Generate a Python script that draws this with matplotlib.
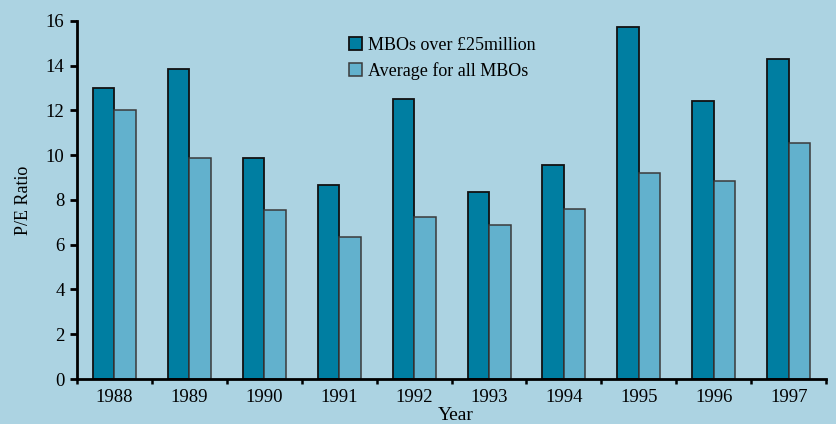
import matplotlib
matplotlib.use("Agg")
import matplotlib.pyplot as plt
import numpy as np

years = ["1988", "1989", "1990", "1991", "1992", "1993", "1994", "1995", "1996", "1997"]
mbo_over_25m = [13.0, 13.85, 9.85, 8.65, 12.5, 8.35, 9.55, 15.7, 12.4, 14.3]
avg_all_mbos = [12.0, 9.87, 7.55, 6.35, 7.22, 6.9, 7.6, 9.2, 8.85, 10.55]
series_names = ["MBOs over £25million", "Average for all MBOs"]

plt.rcParams['font.family'] = ['Liberation Serif', 'DejaVu Serif']

bg = '#acd3e2'
dark = '#007ea1'
light = '#62b1cd'

fig = plt.figure(figsize=(8.37, 4.24), dpi=100, facecolor=bg)
ax = fig.add_axes([0.092, 0.106, 0.895, 0.845], facecolor=bg)

x = np.arange(len(years))
w = 0.287
ax.bar(x - w/2, mbo_over_25m, width=w, color=dark, edgecolor='#111111', linewidth=1.3, label=series_names[0])
ax.bar(x + w/2, avg_all_mbos, width=w, color=light, edgecolor='#3a3a3a', linewidth=1.1, label=series_names[1])

ax.set_xlim(-0.5, len(years) - 0.5)
ax.set_ylim(0, 16)
ax.set_yticks(np.arange(0, 17, 2))
ax.set_xticks(x)
ax.set_xticklabels(years)
ax.set_xticks(np.arange(-0.5, len(years), 1.0), minor=True)
ax.tick_params(axis='x', which='major', length=0, labelsize=13.5, pad=7)
ax.tick_params(axis='x', which='minor', length=3.5, width=1.8, direction='out')
ax.tick_params(axis='y', length=5, width=2, direction='out', labelsize=13.5, pad=4)

for s in ['top', 'right']:
    ax.spines[s].set_visible(False)
for s in ['left', 'bottom']:
    ax.spines[s].set_linewidth(2)
    ax.spines[s].set_color('black')

ax.set_ylabel("P/E Ratio", fontsize=13, labelpad=10)
ax.set_xlabel("Year", fontsize=14, labelpad=3)
ax.xaxis.set_label_coords(0.506, -0.077)

leg = ax.legend(loc='upper left', bbox_to_anchor=(0.353, 0.975), frameon=False,
                fontsize=13, handlelength=0.75, handleheight=0.75, handletextpad=0.3,
                labelspacing=0.45, borderaxespad=0)

fig.savefig("out.png", dpi=100, facecolor=bg)
